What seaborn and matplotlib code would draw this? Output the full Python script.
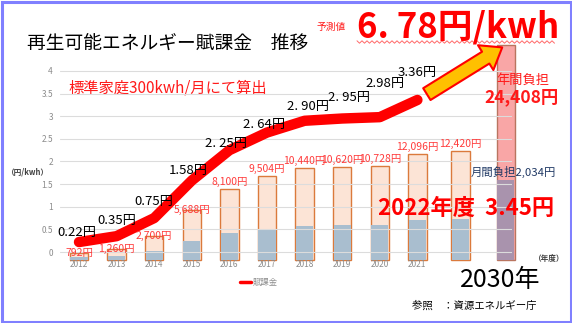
import numpy as np
import matplotlib
matplotlib.use("Agg")
import matplotlib.pyplot as plt
from matplotlib.patches import ConnectionPatch, Rectangle
from matplotlib.lines import Line2D
import seaborn as sns

# 年度
years = ["2012", "2013", "2014", "2015", "2016", "2017", "2018",
         "2019", "2020", "2021", "2022", "2030"]
# 賦課金単価 (円/kWh) 2012〜2021年度
levy_rate = [0.22, 0.35, 0.75, 1.58, 2.25, 2.64, 2.90, 2.95, 2.98, 3.36]
rate_labels = ["0.22円", "0.35円", "0.75円", "1.58円", "2. 25円",
               "2. 64円", "2. 90円", "2. 95円", "2.98円", "3.36円"]
# 標準家庭(300kWh/月)の年間負担額 (円)
annual_cost = [792, 1260, 2700, 5688, 8100, 9504, 10440, 10620,
               10728, 12096, 12420, 24408]
# 月間負担額 (円)
monthly_cost = [66, 105, 225, 474, 675, 792, 870, 885, 894, 1008, 1035, 2034]
rate_2022 = 3.45
rate_2030 = 6.78

sns.set_theme(style="white")
plt.rcParams["font.family"] = ["Noto Sans CJK JP", "DejaVu Sans"]

W, H = 572, 323
fig = plt.figure(figsize=(W / 100, H / 100), dpi=100)
fig.patch.set_facecolor("white")


def fx(px):
    return px / W


def fy(py):
    return 1 - py / H


# plot area in pixels: x 60..512, y 70..260
ax_left, ax_right, ax_top, ax_bottom = 60, 512, 70, 260
rect = [fx(ax_left), fy(ax_bottom), (ax_right - ax_left) / W, (ax_bottom - ax_top) / H]
ax = fig.add_axes(rect)
ax_year = ax.twinx()
ax_month = ax.twinx()

n = len(years)
xpos = np.arange(n, dtype=float)
xpos[-2:] += [0.15, 0.35]

px_per_x = 37.6
xlim = ((ax_left - 79) / px_per_x, (ax_right - 79) / px_per_x)
plot_h = ax_bottom - ax_top
rate_px = 45.25
y0 = -8 / rate_px
for a in (ax, ax_year, ax_month):
    a.set_xlim(*xlim)
ax.set_ylim(y0, y0 + plot_h / rate_px)
ax_year.set_ylim(0, plot_h / 0.0088)
ax_month.set_ylim(0, plot_h / 0.0393)

# bars: annual (peach) and monthly (blue-grey)
bar_w = 0.49
face = ["#FCE4D6"] * (n - 1) + ["#F9A6A6"]
edge = ["#DB7A3C"] * (n - 1) + ["#B97560"]
ax_year.bar(xpos, annual_cost, width=bar_w, color=face, edgecolor=edge,
            linewidth=1.0, clip_on=False)
inner = ["#A9BECF"] * (n - 1) + ["#A993AD"]
ax_month.bar(xpos, monthly_cost, width=bar_w - 0.03, color=inner,
             linewidth=0, clip_on=False)

for a in (ax_year, ax_month):
    a.axis("off")

ax.set_zorder(5)
ax.patch.set_visible(False)

# levy line
sns.lineplot(x=xpos[:10], y=levy_rate, ax=ax, color="#FF0000", linewidth=7.5,
             solid_capstyle="round", solid_joinstyle="round", legend=False)

ax.set_yticks(np.arange(0, 4.01, 0.5))
ax.set_yticklabels([f"{t:g}" for t in np.arange(0, 4.01, 0.5)])
ax.set_xticks(xpos[:10])
ax.set_xticklabels(years[:10])
ax.tick_params(axis="y", length=0, pad=5, labelsize=6, labelcolor="#8C8C8C")
ax.tick_params(axis="x", length=0, pad=0, labelsize=6, labelcolor="#8C8C8C")
ax.grid(axis="y", color="#DCDCDC", linewidth=0.8)
ax.grid(axis="x", visible=False)
for s in ax.spines.values():
    s.set_visible(False)
ax.set_xlabel("")
ax.set_ylabel("")

# rate labels
offsets = [(-2, 10), (0, 16), (0, 17), (-4, 10), (-3, 7), (-3, 8),
           (3, 14), (7, 21), (5, 34), (0, 27)]
for x, v, lab, off in zip(xpos[:10], levy_rate, rate_labels, offsets):
    ax.annotate(lab, (x, v), xytext=off, textcoords="offset pixels",
                ha="center", va="center", fontsize=9.5, color="black", zorder=10)

# annual cost labels at the bar tops (the low ones sit under the line)
cost_lift = [0, 0, 0, 0, 7, 7, 7, 7, 7, 7, 7]
for x, v, lift in zip(xpos[:11], annual_cost[:11], cost_lift):
    ax.annotate(f"{v:,}円", (x, v), xycoords=ax_year.transData,
                xytext=(0, lift), textcoords="offset pixels",
                ha="center", va="center", fontsize=7.5, color="#FF3B3B",
                annotation_clip=False, zorder=12)

# projection arrow from 2021 to 2030
arrow = ConnectionPatch(xyA=(xpos[9], levy_rate[-1]), coordsA=ax.transData,
                        xyB=(xpos[11], annual_cost[-1]), coordsB=ax_year.transData,
                        arrowstyle="simple,head_length=1.4,head_width=2.1,tail_width=1.0",
                        mutation_scale=10, shrinkA=8, shrinkB=3,
                        facecolor="#FFC000", edgecolor="#FF0000", linewidth=1.5,
                        zorder=20)
fig.add_artist(arrow)

# texts
fig.text(fx(27), fy(44), "再生可能エネルギー賦課金　推移", fontsize=13.5,
         color="black", ha="left", va="center")
fig.text(fx(68), fy(88), "標準家庭300kwh/月にて算出", fontsize=11,
         color="#FF1A1A", ha="left", va="center")
fig.text(fx(317), fy(27), "予測値", fontsize=7, color="#FF1A1A",
         ha="left", va="center")
fig.text(fx(357), fy(27), f"{int(rate_2030)}. {round(rate_2030 % 1 * 100):02d}円/kwh",
         fontsize=25, fontweight="bold", color="#FF0000", ha="left", va="center")

# wavy underline
zx = np.arange(357, 556, 2.5)
zy = 42 + np.where(np.arange(len(zx)) % 2 == 0, -1.2, 1.2)
fig.add_artist(Line2D(fx(zx), fy(zy), color="#FF6A6A", linewidth=0.7,
                      transform=fig.transFigure))

fig.text(fx(523), fy(80), "年間負担", fontsize=9.5, color="#FF1A1A",
         ha="center", va="center", zorder=30)
fig.text(fx(522), fy(97), f"{annual_cost[-1]:,}円", fontsize=12.5, fontweight="bold",
         color="#FF1A1A", ha="center", va="center", zorder=30)
fig.text(fx(471), fy(172), f"月間負担{monthly_cost[-1]:,}円", fontsize=8.2,
         color="#1F3864", ha="left", va="center", zorder=30)
fig.text(fx(466), fy(208), f"2022年度  {rate_2022:.2f}円", fontsize=16,
         fontweight="bold", color="#FF0000", ha="center", va="center", zorder=30)
fig.text(fx(7), fy(172), "（円/kwh）", fontsize=5.5, fontweight="bold",
         color="#404040", ha="left", va="center")
fig.text(fx(549), fy(259), "（年度）", fontsize=5.5, fontweight="bold",
         color="#404040", ha="center", va="center")
fig.text(fx(500), fy(280), "2030年", fontsize=18, color="black",
         ha="center", va="center")
fig.text(fx(412), fy(306), "参照　：資源エネルギー庁", fontsize=7.5,
         color="black", ha="left", va="center")

fig.legend(handles=[Line2D([], [], color="#FF0000", linewidth=2.5)],
           labels=["賦課金"], loc="center left",
           bbox_to_anchor=(fx(236), fy(282)), frameon=False, fontsize=6,
           handlelength=1.3, handletextpad=0.2, borderpad=0, labelcolor="#8C8C8C")

# slide frame
fig.add_artist(Rectangle((fx(1.5), fy(321.5)), fx(569), 320 / H,
                         transform=fig.transFigure, fill=False,
                         edgecolor="#8080FF", linewidth=2.2))

fig.savefig("out.png", dpi=100)
